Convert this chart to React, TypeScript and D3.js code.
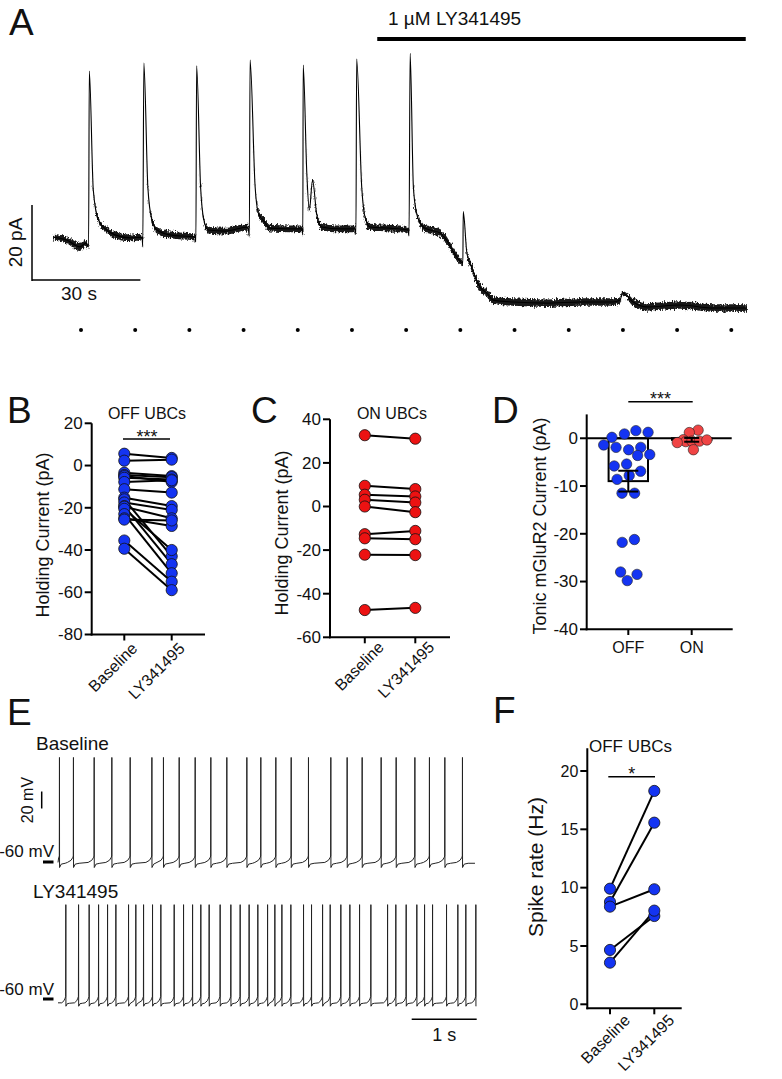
import React, { useMemo } from "react";
import * as d3 from "d3";

const FONT = "'Liberation Sans', Arial, Helvetica, sans-serif";

// ---------------- Panel A data ----------------
// [time (s), holding current (pA), noise half-amplitude (pA)]
const A_TRACE: [number, number, number][] = [
  [-7.5, -1.9, 0.9], [-3.9, -2.7, 0.9], [-0.3, -4.5, 1.1], [1.4, -3.5, 0.9], [2.1, -4.5, 0.6],
  [2.3, 42.4, 0], [3.4, 10.7, 0.3], [4.8, 2.7, 0.7], [7.1, 0.0, 0.9], [9.4, -1.3, 0.9],
  [13.6, -2.1, 0.9], [16.9, -1.9, 0.9], [17.1, -4.5, 0.6],
  [17.4, 44.5, 0], [18.5, 11.5, 0.3], [19.6, 2.7, 0.7], [21.0, 0.0, 0.9], [24.6, -1.3, 0.9],
  [31.5, -1.9, 0.9], [31.8, -3.2, 0.6],
  [32.0, 43.8, 0], [33.1, 11.5, 0.3], [34.0, 2.7, 0.7], [35.2, 0.0, 0.9], [39.9, -0.3, 0.9],
  [46.2, 0.8, 0.9], [46.6, -1.6, 0.6],
  [46.8, 45.3, 0], [48.2, 11.5, 0.3], [49.1, 4.5, 0.7], [50.4, 2.7, 0.9], [52.3, 0.5, 0.9],
  [57.9, 0.3, 0.9], [61.2, 0.3, 0.9], [61.4, -1.3, 0.6],
  [61.5, 44.0, 0], [62.5, 15.2, 0.3], [63.2, 5.3, 0.5], [64.1, 13.3, 0.3], [65.2, 4.5, 0.7],
  [66.6, 0.8, 0.9], [71.7, 0.3, 0.9], [75.8, 0.3, 0.9], [76.1, -1.1, 0.6],
  [76.3, 45.6, 0], [77.7, 11.5, 0.3], [78.6, 3.5, 0.7], [80.0, 0.8, 0.9], [85.5, 0.5, 0.9],
  [90.5, 0.0, 0.9], [90.8, -1.6, 0.6],
  [91.1, 47.1, 0], [92.0, 11.5, 0.3], [92.9, 4.5, 0.7], [94.7, 0.8, 0.9], [96.6, 0.0, 1.0],
  [99.4, -0.8, 1.0], [101.2, -2.7, 1.0], [104.0, -7.2, 1.0], [105.7, -8.8, 0.8],
  [105.8, 4.9, 0], [106.8, -6.1, 0.5], [107.7, -8.8, 0.9], [109.1, -12.5, 1.0],
  [110.4, -15.2, 1.0], [112.3, -16.8, 1.0], [114.1, -18.7, 1.0], [119.7, -19.2, 1.0],
  [128.9, -19.5, 1.0], [138.1, -19.2, 1.0], [147.3, -19.2, 1.0], [149.2, -18.7, 0.8],
  [149.9, -16.8, 0.5], [152.8, -19.2, 1.0], [156.6, -20.5, 1.0], [165.8, -20.0, 1.0],
  [174.9, -20.8, 1.0], [184.3, -20.8, 1.0],
];
const A_STIM_TIMES = [0, 15, 30, 45, 60, 75, 90, 105, 120, 135, 150, 165, 180];
const A_DRUG_LABEL = "1 µM LY341495";
const A_DRUG_START = 82;
const A_DRUG_END = 184;
const A_BAR_PA = 20;
const A_BAR_S = 30;

// ---------------- Panels B, C, F (paired) ----------------
const PAIR_CONDITIONS = ["Baseline", "LY341495"];

const B_TITLE = "OFF UBCs";
const B_BASELINE = [5.6, 2.3, -3.4, -4.5, -5.0, -5.8, -7.8, -11.2, -15.2, -16.0, -17.5, -19.2, -19.5, -20.5, -23.0, -25.0, -25.6, -35.5, -39.4];
const B_LY = [3.6, 2.8, -5.0, -5.5, -7.8, -6.6, -7.0, -12.8, -19.2, -43.0, -21.0, -46.7, -25.0, -40.0, -51.0, -28.6, -26.0, -55.0, -59.0];
const B_TICKS = [20, 0, -20, -40, -60, -80];

const C_TITLE = "ON UBCs";
const C_BASELINE = [32.7, 9.5, 5.4, 3.1, 0.0, -12.7, -14.6, -22.1, -47.5];
const C_LY = [31.1, 8.0, 4.6, 1.8, -2.6, -11.2, -15.0, -22.3, -46.5];
const C_TICKS = [40, 20, 0, -20, -40, -60];

const HOLDING_LABEL = "Holding Current (pA)";

// ---------------- Panel D ----------------
const D_GROUPS = ["OFF", "ON"];
const D_OFF = [1.25, 0.9, 1.6, 0.2, -1.4, -1.9, -2.4, -1.9, -3.6, -3.4, -5.8, -5.4, -6.9, -7.8, -8.6, -11.5, -11.5, -21.2, -21.8, -28.0, -28.5, -29.8];
const D_ON = [1.7, 1.2, -0.3, -0.7, -0.6, -0.9, -0.6, -2.4, -0.35];
const D_TICKS = [0, -10, -20, -30, -40];
const D_LABEL = "Tonic mGluR2 Current (pA)";

// ---------------- Panel E ----------------
// spike times (s)
const E_BASELINE_SPIKES = [0.02, 0.235, 0.554, 0.826, 1.108, 1.442, 1.62, 1.862, 2.108, 2.349, 2.595, 2.903, 3.118, 3.349, 3.585, 3.851, 4.195, 4.446, 4.677, 4.969, 5.2, 5.488, 5.712, 5.949, 6.22];
const E_LY_SPIKES = [0.118, 0.314, 0.477, 0.622, 0.76, 0.888, 1.083, 1.195, 1.314, 1.452, 1.58, 1.785, 1.929, 2.068, 2.195, 2.323, 2.492, 2.657, 2.8, 2.938, 3.072, 3.222, 3.334, 3.442, 3.58, 3.775, 3.898, 4.068, 4.185, 4.349, 4.488, 4.637, 4.811, 5.068, 5.195, 5.354, 5.518, 5.637, 5.76, 5.975, 6.149, 6.272, 6.426];
const E_BASELINE_END = 6.415;
const E_LY_END = 6.432;
// waveform around each spike: [dt (s), mV]
const E_BASE_PRE: [number, number][] = [[-0.09, -60.5], [-0.035, -58], [-0.01, -55]];
const E_BASE_POST: [number, number][] = [[0.004, -66.5], [0.03, -62.5], [0.09, -61.5]];
const E_BASE_ONSET = -53;
const E_BASE_PEAK = 63;
const E_LY_PRE: [number, number][] = [[-0.06, -64.5], [-0.025, -62], [-0.008, -59]];
const E_LY_POST: [number, number][] = [[0.004, -68.5], [0.025, -65.5], [0.06, -65]];
const E_LY_ONSET = -57;
const E_LY_PEAK = 51;
const E_BAR_MV = 20;
const E_BAR_S = 1;

// ---------------- Panel F ----------------
const F_TITLE = "OFF UBCs";
const F_BASELINE = [9.91, 8.77, 8.37, 4.66, 3.57];
const F_LY = [18.29, 15.57, 9.86, 7.57, 8.03];
const F_TICKS = [0, 5, 10, 15, 20];
const F_LABEL = "Spike rate (Hz)";

const BLUE = "#1434f2";
const RED_C = "#ec1212";
const RED_D = "#f04444";

function buildTrain(
  spikes: number[], tEnd: number, pre: [number, number][], post: [number, number][],
  onset: number, peak: number
): [number, number][] {
  const pts: [number, number][] = [];
  for (let i = 0; i < spikes.length; i++) {
    const t = spikes[i];
    const prevGap = i === 0 ? 1e9 : t - spikes[i - 1];
    if (i === 0) pts.push([0, pre[0][1]]);
    for (const [dt, v] of pre) if (-dt < prevGap / 2 && t + dt > 0) pts.push([t + dt, v]);
    pts.push([t, onset]);
    pts.push([t + 0.0025, peak]);
    const isLast = i === spikes.length - 1;
    const nextGap = isLast ? 1e9 : spikes[i + 1] - t;
    for (const [dt, v] of post) if (dt < nextGap / 2 && t + dt <= tEnd) pts.push([t + dt, v]);
  }
  const last = pts[pts.length - 1];
  if (last[0] < tEnd) pts.push([tEnd, last[1]]);
  return pts;
}

type PairedProps = {
  before: number[]; after: number[]; color: string;
  domain: [number, number]; yRange: [number, number]; xRange: [number, number];
  axisX: number; axisRight: number; xAxisY: number; axisTop: number;
  ticks: number[]; tickFont: number; catFont: number; catDx: number; catDy: number; r: number;
};

function Paired(p: PairedProps) {
  const y = d3.scaleLinear().domain(p.domain).range(p.yRange);
  const x = d3.scalePoint<string>().domain(PAIR_CONDITIONS).range(p.xRange);
  const x0 = x(PAIR_CONDITIONS[0]) as number;
  const x1 = x(PAIR_CONDITIONS[1]) as number;
  return (
    <g>
      <line x1={p.axisX} x2={p.axisX} y1={p.axisTop} y2={p.xAxisY + 1} stroke="#000" strokeWidth={2} />
      <line x1={p.axisX - 1} x2={p.axisRight} y1={p.xAxisY} y2={p.xAxisY} stroke="#000" strokeWidth={2} />
      {p.ticks.map((t) => (
        <g key={t}>
          <line x1={p.axisX - 7} x2={p.axisX} y1={y(t)} y2={y(t)} stroke="#000" strokeWidth={2} />
          <text x={p.axisX - 9} y={y(t)} dy="0.35em" textAnchor="end" fontSize={p.tickFont}>{t}</text>
        </g>
      ))}
      {PAIR_CONDITIONS.map((c) => (
        <g key={c}>
          <line x1={x(c)} x2={x(c)} y1={p.xAxisY} y2={p.xAxisY + 6} stroke="#000" strokeWidth={2} />
          <text transform={`translate(${(x(c) as number) + p.catDx},${p.xAxisY + p.catDy}) rotate(-45)`} textAnchor="end" fontSize={p.catFont}>{c}</text>
        </g>
      ))}
      {p.before.map((v, i) => (
        <line key={"l" + i} x1={x0} x2={x1} y1={y(v)} y2={y(p.after[i])} stroke="#000" strokeWidth={2} />
      ))}
      {p.before.map((v, i) => (
        <circle key={"a" + i} cx={x0} cy={y(v)} r={p.r} fill={p.color} stroke="#111" strokeWidth={0.8} />
      ))}
      {p.after.map((v, i) => (
        <circle key={"b" + i} cx={x1} cy={y(v)} r={p.r} fill={p.color} stroke="#111" strokeWidth={0.8} />
      ))}
    </g>
  );
}

function beeswarm(values: number[], cx: number, y: (v: number) => number, r: number, kx: number) {
  const nodes = values.map((v) => ({ v, x: cx, y: y(v), ty: y(v) })) as any[];
  const sim = d3
    .forceSimulation(nodes)
    .force("x", d3.forceX(cx).strength(kx))
    .force("y", d3.forceY((d: any) => d.ty).strength(0.9))
    .force("collide", d3.forceCollide(r))
    .stop();
  for (let i = 0; i < 300; i++) sim.tick();
  return nodes as { v: number; x: number; y: number }[];
}

export default function App() {
  // ---- A ----
  const xA = d3.scaleLinear().domain([0, 180]).range([81, 731.3]);
  const yA = d3.scaleLinear().domain([0, 20]).range([230, 155]);
  const lineA = d3.line<[number, number, number]>().curve(d3.curveMonotoneX).x((d) => xA(d[0])).y((d) => yA(d[1]));
  const areaA = d3
    .area<[number, number, number]>()
    .curve(d3.curveMonotoneX)
    .x((d) => xA(d[0]))
    .y0((d) => yA(d[1] - d[2]))
    .y1((d) => yA(d[1] + d[2]));
  const barPA = yA(0) - yA(A_BAR_PA);
  const barS = xA(A_BAR_S) - xA(0);

  // ---- D ----
  const yD = d3.scaleLinear().domain([-40, 5]).range([629.3, 414.4]);
  const xD = d3.scalePoint<string>().domain(D_GROUPS).range([628.3, 691.7]);
  const dSets = [D_OFF, D_ON];
  const dColors = [BLUE, RED_D];
  const swarms = useMemo(
    () => [
      beeswarm(D_OFF, xD("OFF") as number, yD, 6.3, 0.06),
      beeswarm(D_ON, xD("ON") as number, yD, 4.4, 0.1),
    ],
    []
  );
  const dStats = dSets.map((vals) => {
    const m = d3.mean(vals) as number;
    const sem = (d3.deviation(vals) as number) / Math.sqrt(vals.length);
    return { m, sem };
  });

  // ---- E ----
  const xE = d3.scaleLinear().domain([0, 1]).range([58, 123]);
  const yEb = d3.scaleLinear().domain([-60, -40]).range([862, 845]);
  const yEl = d3.scaleLinear().domain([-60, -40]).range([999, 982]);
  const trainB = buildTrain(E_BASELINE_SPIKES, E_BASELINE_END, E_BASE_PRE, E_BASE_POST, E_BASE_ONSET, E_BASE_PEAK);
  const trainL = buildTrain(E_LY_SPIKES, E_LY_END, E_LY_PRE, E_LY_POST, E_LY_ONSET, E_LY_PEAK);
  const lineEb = d3.line<[number, number]>().x((d) => xE(d[0])).y((d) => yEb(d[1]));
  const lineEl = d3.line<[number, number]>().x((d) => xE(d[0])).y((d) => yEl(d[1]));
  const barMV = yEb(-60) - yEb(-60 + E_BAR_MV);
  const barE = xE(E_BAR_S) - xE(0);

  return (
    <svg
      width={782}
      height={1079}
      viewBox="0 0 782 1079"
      style={{ position: "absolute", left: 0, top: 0, background: "#fff" }}
      fontFamily={FONT}
      fill="#111"
    >
      <defs>
        <filter id="recnoise" x="-2%" y="-20%" width="104%" height="140%">
          <feTurbulence type="fractalNoise" baseFrequency="0.9 0.35" numOctaves={2} seed={3} result="t" />
          <feDisplacementMap in="SourceGraphic" in2="t" scale={6} xChannelSelector="R" yChannelSelector="G" />
        </filter>
      </defs>
      <rect width={782} height={1079} fill="#fff" />

      {/* ===== Panel A ===== */}
      <text x={9} y={35} fontSize={37}>A</text>
      <text x={388} y={25} fontSize={19}>{A_DRUG_LABEL}</text>
      <line x1={xA(A_DRUG_START)} x2={xA(A_DRUG_END)} y1={39} y2={39} stroke="#000" strokeWidth={4} />
      <path d={areaA(A_TRACE) as string} fill="#000" fillOpacity={0.9} filter="url(#recnoise)" />
      <path d={lineA(A_TRACE) as string} fill="none" stroke="#000" strokeWidth={1.1} />
      <line x1={32} x2={32} y1={280 - barPA} y2={281} stroke="#000" strokeWidth={1.5} />
      <line x1={32} x2={32 + barS} y1={280} y2={280} stroke="#000" strokeWidth={1.5} />
      <text transform={`translate(22,${280 - barPA / 2}) rotate(-90)`} textAnchor="middle" fontSize={19}>20 pA</text>
      <text x={79} y={300} textAnchor="middle" fontSize={19}>30 s</text>
      {A_STIM_TIMES.map((t) => (
        <circle key={t} cx={xA(t)} cy={330} r={2} fill="#000" />
      ))}

      {/* ===== Panel B ===== */}
      <text x={7} y={423} fontSize={37}>B</text>
      <text x={147} y={419} textAnchor="middle" fontSize={16}>{B_TITLE}</text>
      <text transform="translate(49,535) rotate(-90)" textAnchor="middle" fontSize={18}>{HOLDING_LABEL}</text>
      <Paired
        before={B_BASELINE} after={B_LY} color={BLUE}
        domain={[-80, 20]} yRange={[634.5, 423.3]} xRange={[124.3, 171.7]}
        axisX={91.7} axisRight={205} xAxisY={634.5} axisTop={423.3}
        ticks={B_TICKS} tickFont={17} catFont={16} catDx={14} catDy={15} r={5.6}
      />
      <line x1={123} x2={170} y1={439} y2={439} stroke="#000" strokeWidth={1.5} />
      <text x={147} y={443} textAnchor="middle" fontSize={18}>***</text>

      {/* ===== Panel C ===== */}
      <text x={251} y={423} fontSize={37}>C</text>
      <text x={392} y={419} textAnchor="middle" fontSize={16}>{C_TITLE}</text>
      <text transform="translate(288,533) rotate(-90)" textAnchor="middle" fontSize={18}>{HOLDING_LABEL}</text>
      <Paired
        before={C_BASELINE} after={C_LY} color={RED_C}
        domain={[-60, 40]} yRange={[637.3, 419.3]} xRange={[364.8, 415.3]}
        axisX={330} axisRight={450} xAxisY={637.3} axisTop={419.3}
        ticks={C_TICKS} tickFont={17} catFont={16} catDx={20} catDy={11} r={5.6}
      />

      {/* ===== Panel D ===== */}
      <text x={492} y={423} fontSize={37}>D</text>
      <text transform="translate(546,526) rotate(-90)" textAnchor="middle" fontSize={18}>{D_LABEL}</text>
      <line x1={586.7} x2={586.7} y1={414.4} y2={630.3} stroke="#000" strokeWidth={2} />
      <line x1={585.7} x2={732.7} y1={629.3} y2={629.3} stroke="#000" strokeWidth={2} />
      {D_TICKS.map((t) => (
        <g key={t}>
          <line x1={580} x2={586.7} y1={yD(t)} y2={yD(t)} stroke="#000" strokeWidth={2} />
          <text x={578} y={yD(t)} dy="0.35em" textAnchor="end" fontSize={17}>{t}</text>
        </g>
      ))}
      {D_GROUPS.map((g) => (
        <g key={g}>
          <line x1={xD(g)} x2={xD(g)} y1={629.3} y2={635} stroke="#000" strokeWidth={2} />
          <text x={xD(g)} y={653} textAnchor="middle" fontSize={16}>{g}</text>
        </g>
      ))}
      {dStats.map((s, i) => {
        const cx = xD(D_GROUPS[i]) as number;
        return (
          <rect key={i} x={cx - 19.7} width={39.4} y={yD(0)} height={Math.max(0, yD(s.m) - yD(0))}
            fill="#fff" stroke="#000" strokeWidth={2} />
        );
      })}
      <line x1={586.7} x2={731.7} y1={yD(0)} y2={yD(0)} stroke="#000" strokeWidth={2} />
      {swarms.map((nodes, i) =>
        nodes.map((n, j) => (
          <circle key={i + "-" + j} cx={n.x} cy={yD(n.v)} r={5.2} fill={dColors[i]} stroke="#222" strokeWidth={0.6} />
        ))
      )}
      {dStats.map((s, i) => {
        const cx = xD(D_GROUPS[i]) as number;
        const hw = i === 0 ? 10 : 7.5;
        return (
          <g key={"e" + i} stroke="#000" strokeWidth={2}>
            <line x1={cx} x2={cx} y1={yD(s.m + s.sem)} y2={yD(s.m - s.sem)} />
            <line x1={cx - hw} x2={cx + hw} y1={yD(s.m + s.sem)} y2={yD(s.m + s.sem)} />
            <line x1={cx - hw} x2={cx + hw} y1={yD(s.m - s.sem)} y2={yD(s.m - s.sem)} />
          </g>
        );
      })}
      <line x1={628.3} x2={692.7} y1={401.7} y2={401.7} stroke="#000" strokeWidth={1.5} />
      <text x={660.5} y={405} textAnchor="middle" fontSize={18}>***</text>

      {/* ===== Panel E ===== */}
      <text x={7} y={725} fontSize={37}>E</text>
      <text x={36} y={750} fontSize={19}>Baseline</text>
      <text x={33} y={898} fontSize={19}>LY341495</text>
      <path d={lineEb(trainB) as string} fill="none" stroke="#222" strokeWidth={1} />
      <path d={lineEl(trainL) as string} fill="none" stroke="#222" strokeWidth={1} />
      <line x1={41.7} x2={41.7} y1={808.5 - barMV} y2={808.5} stroke="#000" strokeWidth={1.5} />
      <text transform={`translate(33,${808.5 - barMV / 2}) rotate(-90)`} textAnchor="middle" fontSize={16}>20 mV</text>
      <text x={54} y={857} textAnchor="end" fontSize={17}>-60 mV</text>
      <line x1={43} x2={53.5} y1={yEb(-60)} y2={yEb(-60)} stroke="#000" strokeWidth={3} />
      <text x={54} y={995} textAnchor="end" fontSize={17}>-60 mV</text>
      <line x1={43} x2={53.5} y1={yEl(-60)} y2={yEl(-60)} stroke="#000" strokeWidth={3} />
      <line x1={411.7} x2={411.7 + barE} y1={1019.3} y2={1019.3} stroke="#000" strokeWidth={1.5} />
      <text x={411.7 + barE / 2} y={1041} textAnchor="middle" fontSize={18}>1 s</text>

      {/* ===== Panel F ===== */}
      <text x={493} y={723} fontSize={37}>F</text>
      <text x={589} y={752} fontSize={17}>{F_TITLE}</text>
      <text transform="translate(543,867) rotate(-90)" textAnchor="middle" fontSize={21}>{F_LABEL}</text>
      <Paired
        before={F_BASELINE} after={F_LY} color={BLUE}
        domain={[0, 20]} yRange={[1004.3, 771]} xRange={[610, 654.3]}
        axisX={587.3} axisRight={681.7} xAxisY={1008.3} axisTop={748.3}
        ticks={F_TICKS} tickFont={16} catFont={16} catDx={21} catDy={13} r={5.6}
      />
      <line x1={608.3} x2={655} y1={776.7} y2={776.7} stroke="#000" strokeWidth={1.5} />
      <text x={631.7} y={780} textAnchor="middle" fontSize={18}>*</text>
    </svg>
  );
}
